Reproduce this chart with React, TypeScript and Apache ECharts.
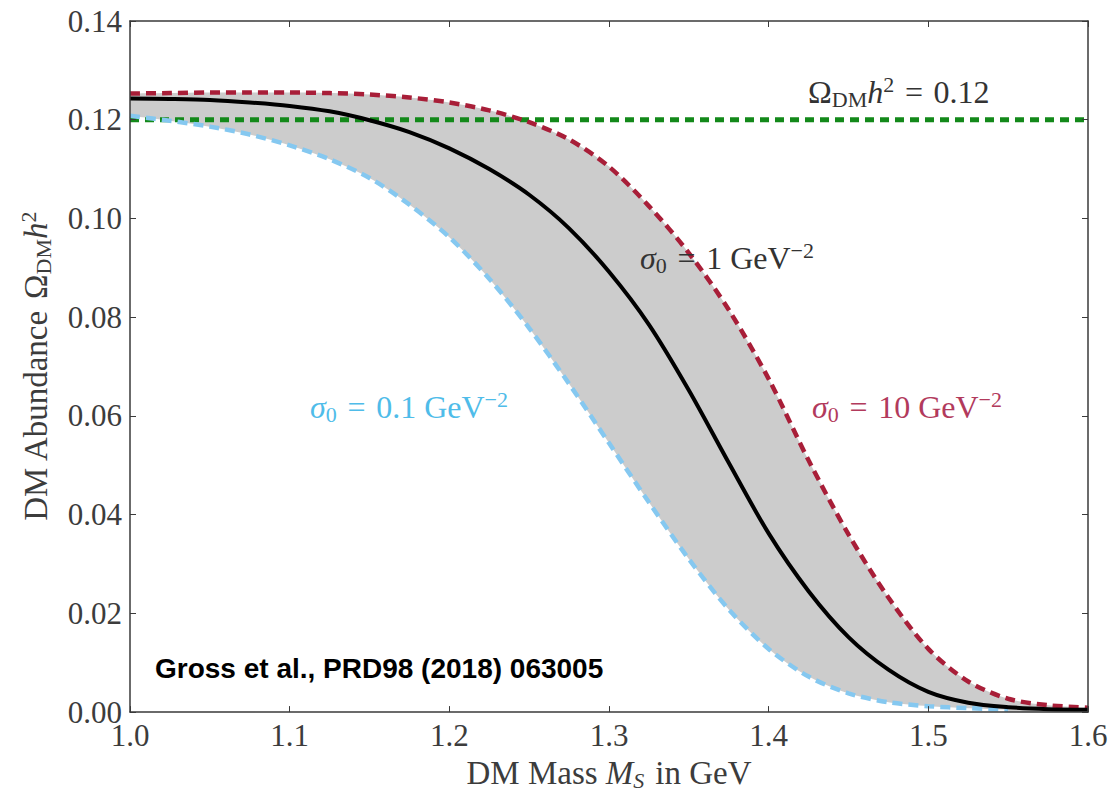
import React, { useEffect, useRef } from "react";
import * as echarts from "echarts";

// DM mass in GeV
const massGeV = [
  1.0, 1.025, 1.05, 1.075, 1.1, 1.125, 1.15, 1.175, 1.2, 1.225, 1.25, 1.275, 1.3,
  1.325, 1.35, 1.375, 1.4, 1.425, 1.45, 1.475, 1.5, 1.525, 1.55, 1.575, 1.6,
];
// sigma0 = 10 GeV^-2 (upper edge)
const sigma10 = [
  0.1253, 0.1254, 0.1255, 0.1255, 0.1255, 0.1254, 0.1251, 0.1245, 0.1235, 0.1219, 0.1195,
  0.116, 0.1105, 0.1025, 0.093, 0.0815, 0.0675, 0.051, 0.036, 0.0232, 0.0128, 0.0062,
  0.0027, 0.0014, 0.0009,
];
// sigma0 = 1 GeV^-2 (central)
const sigma1 = [
  0.1243, 0.1242, 0.124, 0.1235, 0.1228, 0.1217, 0.1199, 0.1175, 0.1142, 0.11, 0.1048,
  0.098, 0.0892, 0.0785, 0.0652, 0.0505, 0.0362, 0.0245, 0.0152, 0.0086, 0.0041, 0.0019,
  0.001, 0.0006, 0.0005,
];
// sigma0 = 0.1 GeV^-2 (lower edge), ends at 1.55 GeV
const sigma01 = [
  0.1208, 0.1198, 0.1186, 0.117, 0.1148, 0.112, 0.1082, 0.1028, 0.0962, 0.0878, 0.0778,
  0.0665, 0.0545, 0.0425, 0.031, 0.0208, 0.0128, 0.0072, 0.0038, 0.002, 0.0012, 0.0008,
  0.0005,
];
// observed relic abundance
const relicMass = [1.0, 1.6];
const relicOmega = [0.12, 0.12];

const xTicks = { min: 1.0, max: 1.6, step: 0.1 };
const yTicks = { min: 0, max: 0.14, step: 0.02 };

const SERIF = "'Liberation Serif', 'DejaVu Serif', serif";
const AXIS_COLOR = "#3a3a3a";
const TEXT_COLOR = "#3c3c3c";
const SMOOTH = 0.3;
const SP = "\u2004"; // math-style spacing

const pairs = (xs: number[], ys: number[]) => ys.map((y, i) => [xs[i], y]);

export default function App() {
  const ref = useRef<HTMLDivElement>(null);

  useEffect(() => {
    document.body.style.margin = "0";
    if (!ref.current) return;
    const chart = echarts.init(ref.current, null, { renderer: "svg" });

    const richFor = (color: string, size: number) => ({
      n: { fontFamily: SERIF, fontSize: size, color, fill: color },
      it: { fontFamily: SERIF, fontStyle: "italic", fontSize: size, color, fill: color },
      sub: { fontFamily: SERIF, fontSize: Math.round(size * 0.68), color, fill: color, padding: [15, 0, 0, 0] },
      subit: { fontFamily: SERIF, fontStyle: "italic", fontSize: Math.round(size * 0.68), color, fill: color, padding: [15, 0, 0, 0] },
      sup: { fontFamily: SERIF, fontSize: Math.round(size * 0.68), color, fill: color, padding: [0, 0, 15, 0] },
    });

    const annText = (x: number, y: number, text: string, color: string) => ({
      type: "text",
      x,
      y,
      style: {
        text,
        fill: color,
        font: `32px ${SERIF}`,
        verticalAlign: "middle",
        rich: richFor(color, 32),
      },
      z: 100,
    });

    const axisCommon = {
      z: 20,
      axisLine: { onZero: false, lineStyle: { color: AXIS_COLOR, width: 1.5 } },
      axisTick: { inside: true, length: 6, lineStyle: { color: AXIS_COLOR, width: 1 } },
      splitLine: { show: false },
    };

    const option: any = {
      animation: false,
      backgroundColor: "#ffffff",
      grid: { left: 130, right: 27, top: 21, bottom: 73, containLabel: false },
      xAxis: [
        {
          ...axisCommon,
          type: "value",
          min: xTicks.min,
          max: xTicks.max,
          interval: xTicks.step,
          name: `DM Mass {it|M}{subit|S}${SP}in GeV`,
          nameLocation: "middle",
          nameGap: 38,
          nameTextStyle: {
            color: TEXT_COLOR,
            fontFamily: SERIF,
            fontSize: 33,
            rich: richFor(TEXT_COLOR, 33),
          },
          axisLabel: {
            color: TEXT_COLOR,
            fontFamily: SERIF,
            fontSize: 31,
            margin: 8,
            formatter: (v: number) => v.toFixed(1),
          },
        },
        {
          ...axisCommon,
          type: "value",
          position: "top",
          min: xTicks.min,
          max: xTicks.max,
          interval: xTicks.step,
          axisLabel: { show: false },
        },
      ],
      yAxis: [
        {
          ...axisCommon,
          type: "value",
          min: yTicks.min,
          max: yTicks.max,
          interval: yTicks.step,
          name: `DM Abundance${SP}{n|Ω}{sub|DM}{it|h}{sup|2}`,
          nameLocation: "middle",
          nameGap: 76,
          nameRotate: 90,
          nameTextStyle: {
            color: TEXT_COLOR,
            fontFamily: SERIF,
            fontSize: 33,
            rich: richFor(TEXT_COLOR, 33),
          },
          axisLabel: {
            color: TEXT_COLOR,
            fontFamily: SERIF,
            fontSize: 31,
            margin: 8,
            formatter: (v: number) => v.toFixed(2),
          },
        },
        {
          ...axisCommon,
          type: "value",
          position: "right",
          min: yTicks.min,
          max: yTicks.max,
          interval: yTicks.step,
          axisLabel: { show: false },
        },
      ],
      series: [
        {
          name: "bandUpper",
          type: "line",
          data: pairs(massGeV, sigma10),
          smooth: SMOOTH,
          showSymbol: false,
          lineStyle: { width: 0, opacity: 0 },
          areaStyle: { color: "#cccccc", opacity: 1, origin: "start" },
          silent: true,
          z: 1,
        },
        {
          name: "bandLower",
          type: "line",
          data: pairs(massGeV, sigma01),
          smooth: SMOOTH,
          showSymbol: false,
          lineStyle: { width: 0, opacity: 0 },
          areaStyle: { color: "#ffffff", opacity: 1, origin: "start" },
          silent: true,
          z: 2,
        },
        {
          name: "Ω h² = 0.12",
          type: "line",
          data: pairs(relicMass, relicOmega),
          showSymbol: false,
          lineStyle: { color: "#13891a", width: 5, type: [9, 6] },
          z: 3,
        },
        {
          name: "σ0 = 0.1",
          type: "line",
          data: pairs(massGeV, sigma01),
          smooth: SMOOTH,
          showSymbol: false,
          lineStyle: { color: "#85c8f0", width: 4.5, type: [10, 6] },
          z: 4,
        },
        {
          name: "σ0 = 10",
          type: "line",
          data: pairs(massGeV, sigma10),
          smooth: SMOOTH,
          showSymbol: false,
          lineStyle: { color: "#a81e38", width: 4.5, type: [10, 6] },
          z: 4,
        },
        {
          name: "σ0 = 1",
          type: "line",
          data: pairs(massGeV, sigma1),
          smooth: SMOOTH,
          showSymbol: false,
          lineStyle: { color: "#000000", width: 4 },
          z: 5,
        },
      ],
      graphic: [
        annText(808, 92, `{n|Ω}{sub|DM}{it|h}{sup|2}{n|${SP}=${SP}0.12}`, "#333333"),
        annText(640, 258, `{it|σ}{sub|0}{n|${SP}=${SP}1 GeV}{sup|−2}`, "#333333"),
        annText(310, 407, `{it|σ}{sub|0}{n|${SP}=${SP}0.1 GeV}{sup|−2}`, "#4fbce9"),
        annText(812, 407, `{it|σ}{sub|0}{n|${SP}=${SP}10 GeV}{sup|−2}`, "#b23a5c"),
        {
          type: "text",
          x: 155,
          y: 668,
          style: {
            text: "Gross et al., PRD98 (2018) 063005",
            fill: "#000000",
            font: "bold 28px 'Liberation Sans', Arial, sans-serif",
            verticalAlign: "middle",
          },
          z: 100,
        },
      ],
    };

    chart.setOption(option);
    return () => chart.dispose();
  }, []);

  return <div ref={ref} style={{ width: 1115, height: 796 }} />;
}
